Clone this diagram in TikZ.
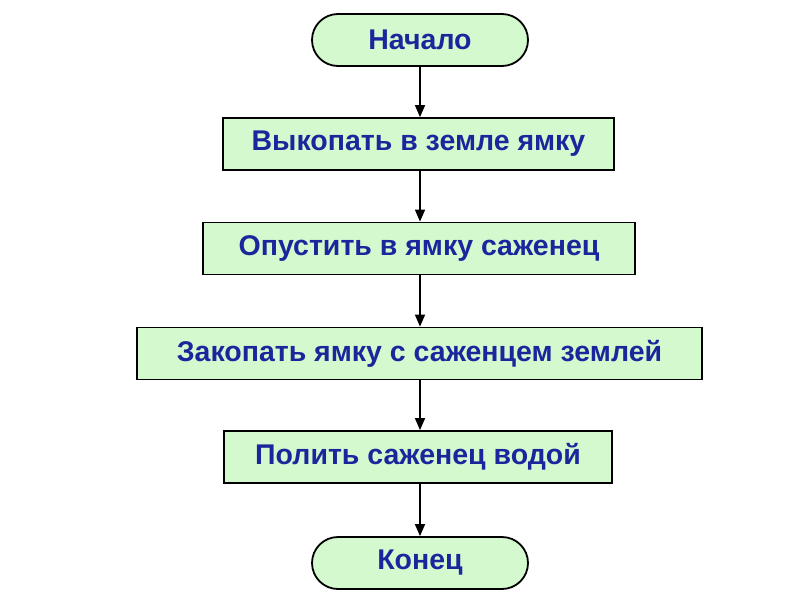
\documentclass[tikz,border=0pt]{standalone}
\usepackage{fontspec}
\setmainfont{Liberation Sans}
\usetikzlibrary{arrows.meta}
\definecolor{boxfill}{HTML}{D5F9CF}
\definecolor{txtblue}{HTML}{1C269C}
\begin{document}
\begin{tikzpicture}[x=1pt,y=-1pt,
  box/.style={draw=black,line width=1.8pt,fill=boxfill,rectangle,minimum height=52pt,inner sep=0pt,font=\bfseries\fontsize{28.5}{32}\selectfont,text=txtblue},
  arr/.style={line width=1.6pt,-{Triangle[length=12pt,width=10pt]}}]
\useasboundingbox (0,0) rectangle (800,600);
\fill[white] (0,0) rectangle (800,600);
\node[box,minimum width=216pt,rounded corners=26pt] (start) at (420,40) {Начало};
\node[box,minimum width=391pt] (b1) at (418.5,144) {Выкопать в земле ямку};
\node[box,minimum width=432pt] (b2) at (419,248.5) {Опустить в ямку саженец};
\node[box,minimum width=565pt] (b3) at (419.5,353.5) {Закопать ямку с саженцем землей};
\node[box,minimum width=388pt] (b4) at (418,457) {Полить саженец водой};
\node[box,minimum width=216pt,rounded corners=26pt] (end) at (420,563) {Конец};
\draw[arr] (start.south) -- (start.south |- b1.north);
\draw[arr] (start.south |- b1.south) -- (start.south |- b2.north);
\draw[arr] (start.south |- b2.south) -- (start.south |- b3.north);
\draw[arr] (start.south |- b3.south) -- (start.south |- b4.north);
\draw[arr] (start.south |- b4.south) -- (end.north);
\end{tikzpicture}
\end{document}
